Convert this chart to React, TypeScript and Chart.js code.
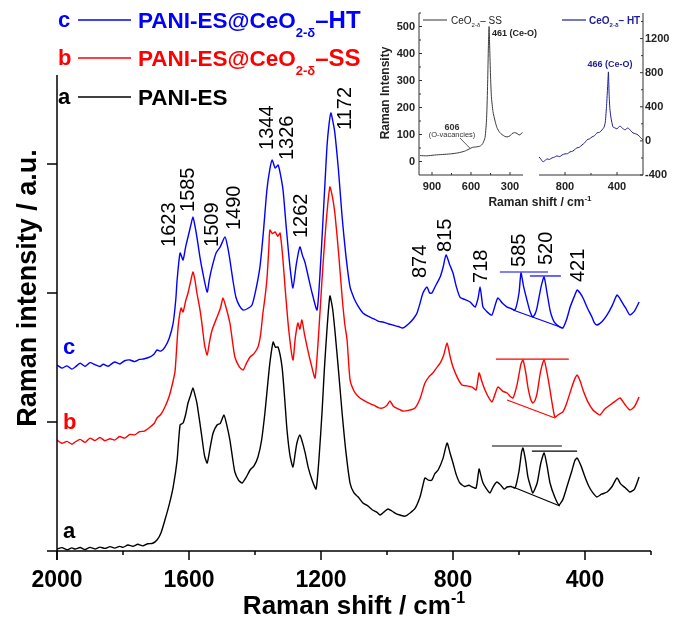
import React, { useEffect, useRef } from 'react';
import { Chart, registerables } from 'chart.js';
Chart.register(...registerables);

const SANS = '"Liberation Sans", Arial, Helvetica, sans-serif';
type Pair = [number, number];

// ---------- main spectra: [Raman shift (cm-1), stacked intensity (a.u.)] ----------
const spectrumA: Pair[] = [
  [2000, 1.6], [1985, 2.6], [1970, 1.0], [1955, 2.4], [1945, 1.5], [1930, 2.7], [1915, 1.1], [1900, 2.8], [1885, 1.6],
  [1870, 3.0], [1855, 2.0], [1839, 3.4], [1825, 2.2], [1810, 3.6], [1800, 2.8], [1785, 4.6], [1770, 3.7], [1755, 5.2],
  [1740, 4.0], [1725, 5.6], [1710, 6.0], [1697, 8.5], [1685, 14], [1673, 24], [1660, 36], [1648, 49.6], [1636, 70.5],
  [1627, 97.7], [1618, 99.2], [1610, 106], [1603, 114.7], [1595, 121], [1588, 126.4], [1582, 121], [1576, 114.7], [1568, 101],
  [1561, 88.4], [1553, 74], [1545, 68.2], [1536, 80], [1527, 91.5], [1515, 97.7], [1505, 99], [1494, 105.4], [1485, 97],
  [1476, 86], [1468, 72], [1461, 61.2], [1450, 55], [1439, 52.7], [1427, 57], [1415, 62.8], [1403, 66], [1391, 72.9],
  [1380, 86], [1370, 107], [1362, 128], [1355, 145.7], [1345, 162], [1338, 158], [1330, 158.1], [1318, 142.6], [1310, 118],
  [1303, 93.8], [1294, 74], [1285, 65.1], [1278, 76], [1273, 83.7], [1264, 89.9], [1256, 84], [1248, 76], [1238, 64],
  [1227, 55], [1215, 48.1], [1206, 72], [1197, 107], [1190, 140], [1182, 171.3], [1173, 197.7], [1165, 188], [1158, 171.3],
  [1147, 140], [1136, 107], [1125, 78], [1112, 52.7], [1100, 45], [1088, 42], [1073, 37.2], [1058, 35], [1045, 32],
  [1030, 30], [1021, 27.9], [1010, 30], [997, 32.6], [985, 31], [973, 29], [961, 27.9], [945, 27], [930, 29.5],
  [915, 33], [900, 41.9], [892, 50], [885, 56.6], [875, 55], [864, 55], [855, 60], [845, 62.8], [830, 72],
  [818, 83.7], [809, 76], [800, 68.2], [790, 59], [779, 52.7], [765, 50], [752, 51], [742, 49.6], [730, 48.8],
  [721, 63.6], [715, 58], [709, 52.7], [698, 48], [688, 45], [678, 50], [667, 53.5], [655, 51], [645, 48], [636, 49.6],
  [624, 50], [612, 48.8], [600, 62], [592, 77], [588, 79.8], [580, 70], [573, 57.4], [565, 50], [558, 45], [545, 52.7],
  [534, 68], [524, 76], [515, 66], [506, 52.7], [492, 42], [479, 35.7], [467, 40], [455, 49.6], [440, 62], [431, 70],
  [424, 72.1], [412, 66], [400, 57.4], [388, 50], [376, 45], [364, 41.9], [350, 44], [333, 45.7], [318, 50], [303, 56.6],
  [292, 52], [278, 49], [264, 45.7], [250, 48], [236, 57.4],
];
const spectrumB: Pair[] = [
  [2000, 86], [1985, 83.5], [1970, 85], [1955, 82.8], [1945, 84.5], [1930, 86.5], [1915, 84.2], [1900, 87.5], [1885, 85.6],
  [1870, 88], [1855, 85.5], [1839, 87], [1825, 86], [1810, 88.8], [1795, 87.5], [1779, 90.4], [1765, 90], [1750, 92.5],
  [1735, 93], [1718, 96.1], [1705, 99], [1697, 103.1], [1685, 106], [1673, 111.6], [1660, 120], [1648, 132], [1642, 140],
  [1633, 173.6], [1624, 188.4], [1618, 185.3], [1610, 194], [1603, 200], [1595, 209], [1588, 216.3], [1582, 210], [1576, 200],
  [1568, 189], [1561, 176.7], [1553, 160], [1545, 151.9], [1538, 162], [1530, 171.3], [1515, 181.4], [1505, 188], [1497, 196.1],
  [1488, 189], [1476, 176.7], [1468, 162], [1461, 150.4], [1448, 143], [1436, 140.3], [1425, 146], [1415, 150.4], [1403, 153],
  [1391, 158.1], [1383, 168], [1376, 184.5], [1370, 196], [1364, 210.1], [1358, 235], [1355, 248.8], [1347, 246], [1339, 247.3],
  [1331, 244], [1324, 246.5], [1316, 228], [1309, 204.7], [1298, 172], [1285, 148.1], [1278, 165], [1270, 176.7], [1264, 172],
  [1258, 179.1], [1250, 168], [1242, 158.1], [1230, 145], [1218, 134.1], [1208, 165], [1197, 210.1], [1190, 236], [1182, 262],
  [1173, 282.2], [1165, 274], [1158, 262], [1147, 232], [1136, 196.9], [1128, 176], [1121, 163.6], [1112, 132.6], [1100, 124],
  [1088, 120], [1073, 117.1], [1058, 115], [1040, 113], [1025, 111], [1012, 110.9], [1000, 113], [991, 116.3], [980, 112],
  [965, 110], [952, 108.5], [935, 109], [915, 110.9], [900, 118], [885, 130.2], [873, 135], [861, 138], [850, 142],
  [839, 145.7], [828, 152], [818, 161.2], [809, 151], [800, 142.6], [786, 134], [773, 128.7], [758, 128], [742, 127.1],
  [730, 124.8], [721, 138], [712, 131], [703, 124.8], [692, 119], [682, 115.5], [672, 122], [664, 127.1], [650, 124],
  [636, 122.5], [627, 120], [618, 118.6], [605, 130], [594, 145], [588, 148.1], [580, 139], [573, 127.1], [565, 118], [558, 114.7],
  [551, 117], [545, 122.5], [534, 140], [524, 148.1], [515, 138], [506, 124.8], [498, 112], [491, 103.9], [479, 106], [467, 107.8],
  [455, 115], [440, 127], [430, 134], [424, 136.4], [415, 132], [406, 124.8], [392, 116], [376, 109.3], [365, 107], [355, 105.4],
  [340, 110], [324, 113.2], [309, 116], [294, 118.6], [280, 114], [264, 109.3], [250, 112], [236, 119.4],
];
const spectrumC: Pair[] = [
  [2000, 144.2], [1985, 141.8], [1970, 143.5], [1955, 141], [1945, 142.6], [1930, 145.5], [1915, 143.2], [1900, 146], [1885, 144.5],
  [1870, 143], [1860, 144.8], [1845, 143.2], [1839, 144.2], [1825, 146.5], [1810, 145], [1795, 147.5], [1779, 148.1], [1765, 146.8],
  [1750, 148.5], [1735, 149], [1718, 150.4], [1705, 153], [1697, 155.8], [1685, 155], [1673, 158.1], [1660, 165], [1648, 176.7],
  [1640, 195], [1636, 210.1], [1627, 231], [1618, 225.6], [1610, 236], [1603, 243.4], [1595, 252], [1588, 258.9], [1582, 252],
  [1576, 243.4], [1567, 228], [1558, 215.5], [1545, 200.8], [1538, 211], [1530, 220.2], [1518, 231], [1505, 236], [1491, 243.4],
  [1483, 236], [1476, 225.6], [1467, 210], [1458, 196.9], [1447, 190], [1436, 186.8], [1422, 188], [1409, 190.7], [1397, 203],
  [1385, 220.2], [1375, 246], [1364, 279.8], [1355, 296], [1348, 303.1], [1339, 296.9], [1330, 299.2], [1323, 292], [1315, 279.8],
  [1305, 250], [1294, 220.2], [1285, 203.9], [1275, 222], [1264, 235.7], [1256, 229], [1248, 223.3], [1238, 212], [1227, 200],
  [1212, 186.8], [1203, 215], [1194, 256.6], [1188, 285], [1182, 313.2], [1176, 330], [1170, 339.5], [1164, 333], [1158, 324],
  [1147, 295], [1136, 258.9], [1125, 230], [1112, 204.7], [1100, 196], [1088, 190], [1073, 184.5], [1058, 182], [1040, 180],
  [1025, 178], [1012, 177.5], [995, 176], [980, 175], [965, 174], [952, 172.9], [935, 176], [920, 180], [909, 184.5],
  [900, 192], [891, 200], [879, 204.7], [871, 200], [864, 200], [852, 206], [839, 212.4], [830, 220], [821, 229.5],
  [810, 222], [800, 215.5], [790, 205], [779, 196.9], [765, 195], [748, 193], [733, 189.1], [724, 196], [718, 204.7],
  [713, 196], [709, 189.1], [695, 185], [682, 182.9], [673, 190], [664, 196.1], [650, 192], [636, 189.1], [624, 188],
  [612, 186.8], [600, 200], [594, 215.5], [586, 205], [576, 194.6], [567, 186], [558, 181.4], [551, 184], [545, 189.1],
  [533, 205], [524, 212.4], [515, 200], [506, 186.8], [498, 180], [491, 176.7], [478, 174], [467, 172.9], [455, 180],
  [445, 189.1], [433, 197], [424, 202.3], [415, 200], [406, 196.1], [392, 188], [379, 181.4], [372, 177], [364, 175.2],
  [348, 178], [333, 183], [318, 190], [303, 198.4], [295, 196], [288, 193], [276, 188], [264, 183], [250, 186], [236, 193],
];

// guide lines drawn over the 585 / 520 bands
const guideC1: Pair[] = [[658, 216.3], [512, 216.3]];
const guideC2: Pair[] = [[567, 213.2], [473, 213.2]];
const guideC3: Pair[] = [[618, 186.8], [467, 172.9]];
const guideB1: Pair[] = [[670, 148.8], [449, 148.8]];
const guideB2: Pair[] = [[636, 117.1], [491, 103.1]];
const guideA1: Pair[] = [[682, 81.4], [470, 81.4]];
const guideA2: Pair[] = [[561, 77.5], [424, 77.5]];
const guideA3: Pair[] = [[618, 49.6], [476, 34.9]];

const xMajorTicks = [2000, 1600, 1200, 800, 400];
const xMinorTicks = [1800, 1400, 1000, 600, 200];
const yTicks = [100, 200, 300];

const peakNames = ['1623', '1585', '1509', '1490', '1344', '1326', '1262', '1172', '874', '815', '718', '585', '520', '421'];
const peakShifts = [1658, 1603, 1530, 1461, 1361, 1303, 1258, 1127, 900, 824, 715, 600, 518, 421];
const peakLevels = [235.7, 262.8, 235.7, 248.8, 310.9, 303.1, 242.6, 326.4, 211.6, 231.8, 207.8, 220.2, 221.7, 208.5];

const seriesLetters = ['c', 'b', 'a'];
const seriesColors = ['#0000ff', '#ff0000', '#000000'];
const seriesMain = ['PANI-ES@CeO', 'PANI-ES@CeO', 'PANI-ES'];
const seriesSub = ['2-\u03b4', '2-\u03b4', ''];
const seriesTail = ['\u2013HT', '\u2013SS', ''];
const seriesStartLevel = [144.2, 86, 1.6];

// ---------- inset spectra ----------
const spectrumSS: Pair[] = [
  [992, 22], [940, 21], [880, 24], [820, 26], [760, 28], [700, 32], [650, 38], [615, 46], [590, 52], [560, 54],
  [530, 57], [510, 66], [492, 89], [480, 160], [472, 290], [466, 430], [461, 500], [456, 420], [450, 320], [443, 240],
  [431, 185], [415, 150], [400, 125], [380, 108], [362, 100], [340, 93], [323, 91], [300, 95], [285, 103], [265, 107],
  [246, 104], [230, 98], [215, 102], [205, 108],
];
const spectrumHT: Pair[] = [
  [1000, -188], [985, -215], [969, -246], [950, -225], [938, -211], [920, -218], [900, -199], [880, -190],
  [862, -176], [840, -185], [823, -165], [800, -152], [780, -150], [762, -129], [740, -120], [720, -95],
  [708, -82], [690, -75], [669, -47], [650, -25], [631, 12], [610, 25], [592, 47], [575, 58], [554, 94],
  [535, 100], [515, 129], [500, 160], [490, 220], [480, 420], [472, 640], [466, 809], [461, 560], [455, 380],
  [446, 270], [431, 164], [415, 152], [400, 140], [377, 176], [360, 150], [338, 129], [325, 145], [315, 152],
  [295, 120], [277, 94], [260, 85], [238, 70], [220, 40], [200, 12],
];
const ssYTicks = [0, 100, 200, 300, 400, 500];
const ssXTicks = [900, 600, 300];
const htYTicks = [-400, 0, 400, 800, 1200];
const htXTicks = [800, 400];

const toXY = (p: Pair[]) => p.map(([x, y]) => ({ x, y }));

function line(ctx: CanvasRenderingContext2D, x1: number, y1: number, x2: number, y2: number) {
  ctx.beginPath();
  ctx.moveTo(x1, y1);
  ctx.lineTo(x2, y2);
  ctx.stroke();
}

function rich(ctx: CanvasRenderingContext2D, x: number, y: number, parts: [string, string, number][], color: string, align: 'left' | 'center') {
  let w = 0;
  for (const [t, f] of parts) { ctx.font = f; w += ctx.measureText(t).width; }
  let cx = align === 'center' ? x - w / 2 : x;
  ctx.fillStyle = color;
  ctx.textAlign = 'left';
  ctx.textBaseline = 'alphabetic';
  for (const [t, f, dy] of parts) {
    ctx.font = f;
    ctx.fillText(t, cx, y + dy);
    cx += ctx.measureText(t).width;
  }
}

const mainDecor = {
  id: 'mainDecor',
  afterDraw(chart: any) {
    const { ctx, chartArea: ca } = chart;
    const X = (v: number) => chart.scales.x.getPixelForValue(v);
    const Y = (v: number) => chart.scales.y.getPixelForValue(v);
    ctx.save();
    ctx.strokeStyle = '#000';
    ctx.lineWidth = 1.5;
    line(ctx, ca.left, ca.top, ca.left, ca.bottom + 9);
    line(ctx, ca.left - 10, ca.bottom, ca.right, ca.bottom);
    for (const v of yTicks) line(ctx, ca.left - 10, Y(v), ca.left, Y(v));
    for (const v of xMajorTicks) line(ctx, X(v), ca.bottom, X(v), ca.bottom + 9);
    for (const v of xMinorTicks) line(ctx, X(v), ca.bottom, X(v), ca.bottom + 4);
    ctx.fillStyle = '#000';
    ctx.font = `bold 23px ${SANS}`;
    ctx.textAlign = 'center';
    ctx.textBaseline = 'alphabetic';
    for (const v of xMajorTicks) ctx.fillText(String(v), X(v), ca.bottom + 36);

    // axis titles
    rich(ctx, (ca.left + ca.right) / 2, 614, [['Raman shift / cm', `bold 26px ${SANS}`, 0], ['-1', `bold 16px ${SANS}`, -11]], '#000', 'center');
    ctx.save();
    ctx.translate(36, 288);
    ctx.rotate(-Math.PI / 2);
    ctx.font = `bold 27px ${SANS}`;
    ctx.textAlign = 'center';
    ctx.textBaseline = 'alphabetic';
    ctx.fillStyle = '#000';
    ctx.fillText('Raman intensity / a.u.', 0, 0);
    ctx.restore();

    // peak labels
    ctx.font = `20px ${SANS}`;
    for (let i = 0; i < peakNames.length; i++) {
      ctx.save();
      ctx.translate(X(peakShifts[i]), Y(peakLevels[i]));
      ctx.rotate(-Math.PI / 2);
      ctx.textAlign = 'left';
      ctx.textBaseline = 'middle';
      ctx.fillStyle = '#000';
      ctx.fillText(peakNames[i], 0, 0);
      ctx.restore();
    }

    // series letters by the curves
    ctx.font = `bold 22px ${SANS}`;
    ctx.textAlign = 'left';
    ctx.textBaseline = 'alphabetic';
    for (let i = 0; i < 3; i++) {
      ctx.fillStyle = seriesColors[i];
      ctx.fillText(seriesLetters[i], ca.left + 6, Y(seriesStartLevel[i]) - 11);
    }

    // legend rows
    const rowLine = [20, 58, 97];
    for (let i = 0; i < 3; i++) {
      const c = seriesColors[i];
      const base = rowLine[i] + 7;
      ctx.fillStyle = c;
      ctx.font = `bold 22px ${SANS}`;
      ctx.fillText(seriesLetters[i], 58, base);
      ctx.strokeStyle = c;
      ctx.lineWidth = 1.5;
      line(ctx, 78, rowLine[i], 131, rowLine[i]);
      const parts: [string, string, number][] = [[seriesMain[i], `bold 22.5px ${SANS}`, 0]];
      if (seriesSub[i]) parts.push([seriesSub[i], `bold 13px ${SANS}`, 9]);
      if (seriesTail[i]) parts.push([seriesTail[i], `bold 24px ${SANS}`, 0]);
      rich(ctx, 138, base + 1, parts, c, 'left');
    }
    ctx.restore();
  },
};

const ssDecor = {
  id: 'ssDecor',
  afterDraw(chart: any) {
    const { ctx, chartArea: ca } = chart;
    const X = (v: number) => chart.scales.x.getPixelForValue(v);
    const Y = (v: number) => chart.scales.y.getPixelForValue(v);
    ctx.save();
    ctx.strokeStyle = '#333';
    ctx.lineWidth = 1;
    line(ctx, ca.left, ca.top, ca.left, ca.bottom);
    line(ctx, ca.left, ca.bottom, ca.right, ca.bottom);
    ctx.fillStyle = '#222';
    ctx.font = `bold 11px ${SANS}`;
    ctx.textAlign = 'right';
    ctx.textBaseline = 'middle';
    for (const v of ssYTicks) {
      line(ctx, ca.left, Y(v), ca.left + 3, Y(v));
      ctx.fillText(String(v), ca.left - 4, Y(v));
    }
    for (const v of ssYTicks) line(ctx, ca.left, Y(v + 50), ca.left + 2, Y(v + 50));
    ctx.textAlign = 'center';
    ctx.textBaseline = 'alphabetic';
    for (const v of ssXTicks) {
      line(ctx, X(v), ca.bottom, X(v), ca.bottom - 3);
      ctx.fillText(String(v), X(v), ca.bottom + 15);
    }
    for (const v of [750, 450]) line(ctx, X(v), ca.bottom, X(v), ca.bottom - 2);
    // y title
    ctx.save();
    ctx.translate(29, 93);
    ctx.rotate(-Math.PI / 2);
    ctx.font = `bold 12px ${SANS}`;
    ctx.textAlign = 'center';
    ctx.fillStyle = '#222';
    ctx.fillText('Raman Intensity', 0, 0);
    ctx.restore();
    // x title (shared by both panels)
    rich(ctx, 180, 206, [['Raman shift / cm', `bold 12px ${SANS}`, 0], ['-1', `bold 8px ${SANS}`, -5]], '#222', 'center');
    // legend
    ctx.strokeStyle = '#333';
    line(ctx, 63, 20, 87, 20);
    rich(ctx, 91, 24, [['CeO', `10px ${SANS}`, 0], ['2-\u03b4', `6px ${SANS}`, 3], ['\u2013 SS', `10px ${SANS}`, 0]], '#222', 'left');
    // annotations
    rich(ctx, 132, 36, [['461 (Ce-O)', `bold 9px ${SANS}`, 0]], '#222', 'left');
    rich(ctx, 92, 130, [['606', `bold 9px ${SANS}`, 0]], '#333', 'center');
    rich(ctx, 92, 137, [['(O-vacancies)', `7.5px ${SANS}`, 0]], '#333', 'center');
    ctx.lineWidth = 0.8;
    line(ctx, 100, 138, X(606), Y(48));
    ctx.restore();
  },
};

const htDecor = {
  id: 'htDecor',
  afterDraw(chart: any) {
    const { ctx, chartArea: ca } = chart;
    const X = (v: number) => chart.scales.x.getPixelForValue(v);
    const Y = (v: number) => chart.scales.y.getPixelForValue(v);
    ctx.save();
    ctx.strokeStyle = '#333';
    ctx.lineWidth = 1;
    line(ctx, ca.left, ca.bottom, ca.right, ca.bottom);
    line(ctx, ca.right, ca.top, ca.right, ca.bottom);
    ctx.fillStyle = '#222';
    ctx.font = `bold 11px ${SANS}`;
    ctx.textAlign = 'left';
    ctx.textBaseline = 'middle';
    for (const v of htYTicks) {
      line(ctx, ca.right - 3, Y(v), ca.right, Y(v));
      ctx.fillText(String(v), ca.right + 2, Y(v));
    }
    for (const v of htYTicks) line(ctx, ca.right - 2, Y(v + 200), ca.right, Y(v + 200));
    ctx.textAlign = 'center';
    ctx.textBaseline = 'alphabetic';
    for (const v of htXTicks) {
      line(ctx, X(v), ca.bottom, X(v), ca.bottom - 3);
      ctx.fillText(String(v), X(v), ca.bottom + 15);
    }
    for (const v of [600]) line(ctx, X(v), ca.bottom, X(v), ca.bottom - 2);
    // legend
    ctx.strokeStyle = '#1e1e96';
    ctx.lineWidth = 1.2;
    line(ctx, 27, 20, 51, 20);
    rich(ctx, 54, 24, [['CeO', `bold 10px ${SANS}`, 0], ['2-\u03b4', `bold 6px ${SANS}`, 3], ['\u2013 HT', `bold 10px ${SANS}`, 0]], '#1e1e96', 'left');
    rich(ctx, 75, 67, [['466 (Ce-O)', `bold 9px ${SANS}`, 0]], '#1e1e96', 'center');
    ctx.restore();
  },
};

const lineDs = (data: Pair[], color: string, width: number, tension = 0) => ({
  data: toXY(data),
  borderColor: color,
  borderWidth: width,
  showLine: true,
  pointRadius: 0,
  fill: false,
  tension,
});

export default function App() {
  const mainRef = useRef<HTMLCanvasElement>(null);
  const ssRef = useRef<HTMLCanvasElement>(null);
  const htRef = useRef<HTMLCanvasElement>(null);

  useEffect(() => {
    document.body.style.margin = '0';
    const common = {
      animation: false as const,
      responsive: false,
      devicePixelRatio: 1,
      plugins: { legend: { display: false }, tooltip: { enabled: false } },
      elements: { point: { radius: 0 } },
    };
    const main = new Chart(mainRef.current!, {
      type: 'scatter',
      data: {
        datasets: [
          lineDs(spectrumA, '#000000', 1.4, 0.2),
          lineDs(spectrumB, '#ff0000', 1.4, 0.2),
          lineDs(spectrumC, '#0000ff', 1.4, 0.2),
          lineDs(guideA1, '#000000', 1.2),
          lineDs(guideA2, '#000000', 1.2),
          lineDs(guideA3, '#000000', 1.2),
          lineDs(guideB1, '#ff0000', 1.2),
          lineDs(guideB2, '#ff0000', 1.2),
          lineDs(guideC1, '#0000ff', 1.2),
          lineDs(guideC2, '#0000ff', 1.2),
          lineDs(guideC3, '#0000ff', 1.2),
        ] as any,
      },
      options: {
        ...common,
        layout: { padding: { left: 57, right: 23, top: 75, bottom: 80 } },
        scales: {
          x: { type: 'linear', min: 200, max: 2000, reverse: true, display: false },
          y: { type: 'linear', min: 0, max: 369, display: false },
        },
      } as any,
      plugins: [mainDecor],
    });
    const ss = new Chart(ssRef.current!, {
      type: 'scatter',
      data: { datasets: [lineDs(spectrumSS, '#3a3a3a', 1, 0.2)] as any },
      options: {
        ...common,
        layout: { padding: { left: 59, right: 151, top: 13, bottom: 40 } },
        scales: {
          x: { type: 'linear', min: 200, max: 1000, reverse: true, display: false },
          y: { type: 'linear', min: -50, max: 550, display: false },
        },
      } as any,
      plugins: [ssDecor],
    });
    const ht = new Chart(htRef.current!, {
      type: 'scatter',
      data: { datasets: [lineDs(spectrumHT, '#1e1e96', 1, 0.2)] as any },
      options: {
        ...common,
        layout: { padding: { left: 4, right: 31, top: 13, bottom: 40 } },
        scales: {
          x: { type: 'linear', min: 200, max: 1000, reverse: true, display: false },
          y: { type: 'linear', min: -400, max: 1500, display: false },
        },
      } as any,
      plugins: [htDecor],
    });
    return () => { main.destroy(); ss.destroy(); ht.destroy(); };
  }, []);

  return (
    <div style={{ position: 'absolute', left: 0, top: 0, width: 674, height: 631, background: '#fff', overflow: 'hidden' }}>
      <canvas ref={mainRef} width={674} height={631} style={{ position: 'absolute', left: 0, top: 0, width: 674, height: 631 }} />
      <canvas ref={ssRef} width={314} height={215} style={{ position: 'absolute', left: 360, top: 0, width: 314, height: 215 }} />
      <canvas ref={htRef} width={139} height={215} style={{ position: 'absolute', left: 535, top: 0, width: 139, height: 215 }} />
    </div>
  );
}
